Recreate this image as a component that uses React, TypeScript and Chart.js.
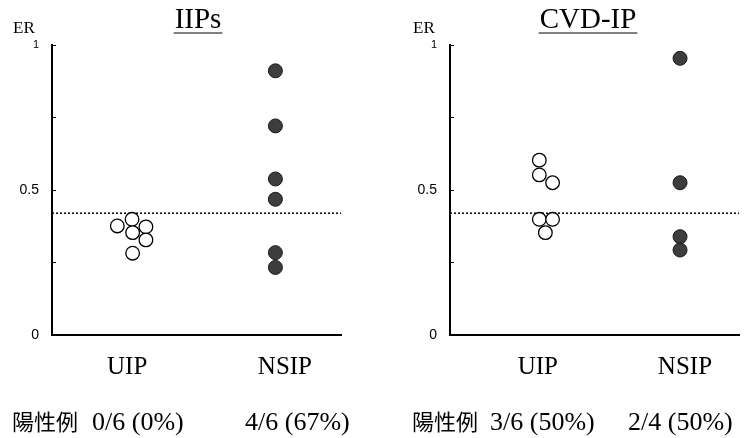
import React, { useEffect, useRef } from 'react';
import { Chart, registerables } from 'chart.js';

Chart.register(...registerables);

// ---------- data ----------
const categories = ['UIP', 'NSIP'];
const yTickLabels: Record<string, string> = { '0': '0', '0.5': '0.5', '1': '1' };
const thresholdER = 0.42;
const positiveLabel = '陽性例';

// IIPs panel
const iipsTitle = 'IIPs';
const iipsUipValues = [0.376, 0.399, 0.373, 0.353, 0.328, 0.282];
const iipsUipX = [2.26, 2.77, 3.25, 2.79, 3.25, 2.79];
const iipsNsipValues = [0.911, 0.721, 0.538, 0.468, 0.284, 0.233];
const iipsNsipX = [7.73, 7.73, 7.73, 7.73, 7.73, 7.73];
const iipsCategoryX = [2.6, 8.06];
const iipsPositive = ['0/6 (0%)', '4/6 (67%)'];

// CVD-IP panel
const cvdTitle = 'CVD-IP';
const cvdUipValues = [0.603, 0.552, 0.525, 0.399, 0.399, 0.353];
const cvdUipX = [3.09, 3.09, 3.55, 3.09, 3.55, 3.3];
const cvdNsipValues = [0.954, 0.525, 0.339, 0.293];
const cvdNsipX = [7.96, 7.96, 7.96, 7.96];
const cvdCategoryX = [3.04, 8.13];
const cvdPositive = ['3/6 (50%)', '2/4 (50%)'];

const SERIF = '"Liberation Serif", "Times New Roman", serif';
const SANS = '"Liberation Sans", Arial, sans-serif';
const CJK = '"Noto Sans CJK JP", "Noto Sans CJK SC", sans-serif';

type PanelProps = {
  width: number;
  axisWidth: number;
  rightPad: number;
  title: string;
  titleX: number;
  erX: number;
  uipX: number[];
  uipValues: number[];
  nsipX: number[];
  nsipValues: number[];
  categoryX: number[];
  positive: string[];
  cjkX: number;
  positiveX: number[];
};

function Panel(p: PanelProps) {
  const ref = useRef<HTMLCanvasElement | null>(null);
  useEffect(() => {
    const canvas = ref.current;
    if (!canvas) return;
    const textPlugin = {
      id: 'panelText',
      afterDraw(chart: any) {
        const ctx = chart.ctx as CanvasRenderingContext2D;
        ctx.save();
        ctx.fillStyle = '#000';
        ctx.strokeStyle = '#000';
        // title
        ctx.font = `29px ${SERIF}`;
        ctx.textAlign = 'center';
        ctx.textBaseline = 'alphabetic';
        ctx.fillText(p.title, p.titleX, 28);
        const tw = ctx.measureText(p.title).width;
        ctx.lineWidth = 1.2;
        ctx.beginPath();
        ctx.moveTo(p.titleX - tw / 2 - 1, 33);
        ctx.lineTo(p.titleX + tw / 2 + 1, 33);
        ctx.stroke();
        // ER
        ctx.font = `17px ${SERIF}`;
        ctx.textAlign = 'left';
        ctx.fillText('ER', p.erX, 33);
        // bottom positive rows
        ctx.font = `22px ${CJK}`;
        ctx.textBaseline = 'alphabetic';
        ctx.fillText(positiveLabel, p.cjkX, 430);
        ctx.font = `26px ${SERIF}`;
        p.positive.forEach((t, i) => ctx.fillText(t, p.positiveX[i], 430));
        ctx.restore();
      },
    };

    const chart = new Chart(canvas, {
      type: 'scatter',
      data: {
        datasets: [
          {
            type: 'line',
            data: [
              { x: 0, y: thresholdER },
              { x: 10, y: thresholdER },
            ],
            borderColor: '#000',
            borderWidth: 1.5,
            borderDash: [2, 2],
            pointRadius: 0,
            fill: false,
            order: 3,
          } as any,
          {
            data: p.uipValues.map((v, i) => ({ x: p.uipX[i], y: v })),
            pointRadius: 6.8,
            pointBackgroundColor: '#fff',
            pointBorderColor: '#000',
            pointBorderWidth: 1.3,
            order: 1,
          },
          {
            data: p.nsipValues.map((v, i) => ({ x: p.nsipX[i], y: v })),
            pointRadius: 7,
            pointBackgroundColor: '#3d3d3d',
            pointBorderColor: '#1a1a1a',
            pointBorderWidth: 1,
            order: 1,
          },
        ],
      },
      options: {
        animation: false,
        responsive: false,
        maintainAspectRatio: false,
        layout: { padding: { left: 0, right: p.rightPad, top: 45, bottom: 0 } },
        plugins: {
          legend: { display: false },
          tooltip: { enabled: false },
        },
        scales: {
          x: {
            type: 'linear',
            min: 0,
            max: 10,
            afterBuildTicks: (s: any) => {
              s.ticks = p.categoryX.map((v) => ({ value: v }));
            },
            afterFit: (s: any) => {
              s.height = 103;
            },
            ticks: {
              callback: (_v: any, i: number) => categories[i],
              font: { family: SERIF, size: 25 },
              color: '#000',
              padding: 17,
              maxRotation: 0,
              autoSkip: false,
            },
            grid: { display: true, drawOnChartArea: false, drawTicks: false },
            border: { display: true, color: '#000', width: 2 },
          },
          y: {
            type: 'linear',
            min: 0,
            max: 1,
            afterFit: (s: any) => {
              s.width = p.axisWidth;
            },
            ticks: {
              stepSize: 0.25,
              callback: (v: any) => yTickLabels[String(v)] ?? '',
              font: (c: any) => ({ family: SANS, size: c.tick && c.tick.value === 1 ? 11 : 14 }),
              color: '#000',
              padding: 17,
            },
            grid: {
              display: true,
              drawOnChartArea: false,
              drawTicks: true,
              tickLength: -4,
              color: '#000',
              lineWidth: 1,
            },
            border: { display: true, color: '#000', width: 2 },
          },
        },
      } as any,
      plugins: [textPlugin],
    });
    return () => chart.destroy();
  }, []);
  return (
    <canvas
      ref={ref}
      width={p.width}
      height={438}
      style={{ display: 'block', width: p.width, height: 438 }}
    />
  );
}

export default function App() {
  return (
    <div
      style={{
        position: 'fixed',
        left: 0,
        top: 0,
        width: 755,
        height: 438,
        background: '#fff',
        display: 'flex',
      }}
    >
      <Panel
        width={377}
        axisWidth={52}
        rightPad={36}
        title={iipsTitle}
        titleX={198}
        erX={13}
        uipX={iipsUipX}
        uipValues={iipsUipValues}
        nsipX={iipsNsipX}
        nsipValues={iipsNsipValues}
        categoryX={iipsCategoryX}
        positive={iipsPositive}
        cjkX={12}
        positiveX={[92, 245]}
      />
      <Panel
        width={378}
        axisWidth={73}
        rightPad={16}
        title={cvdTitle}
        titleX={211}
        erX={36}
        uipX={cvdUipX}
        uipValues={cvdUipValues}
        nsipX={cvdNsipX}
        nsipValues={cvdNsipValues}
        categoryX={cvdCategoryX}
        positive={cvdPositive}
        cjkX={35}
        positiveX={[113, 251]}
      />
    </div>
  );
}
